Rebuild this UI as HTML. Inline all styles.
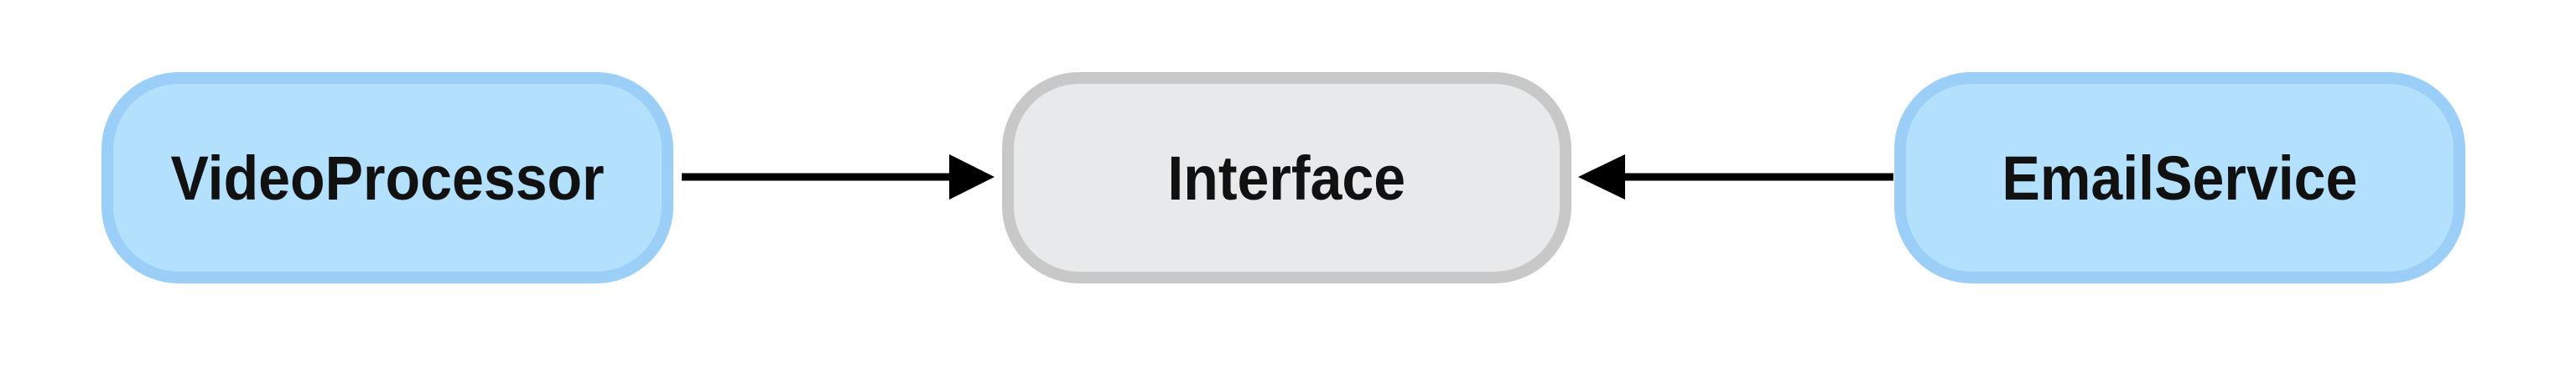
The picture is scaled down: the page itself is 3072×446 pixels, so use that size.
<!DOCTYPE html>
<html><head><style>
html,body{margin:0;padding:0;background:#fff;}
body{width:3072px;height:446px;position:relative;overflow:hidden;font-family:"Liberation Sans",Arial,sans-serif;}
.n{position:absolute;box-sizing:border-box;border-radius:92px;display:flex;align-items:center;justify-content:center;font-weight:bold;font-size:74px;color:#111;top:86px;height:252px;}
.n span{display:inline-block;transform:scaleX(0.92);}
.b{background:#b2e0fd;border:14px solid #9ccff8;}
.g{background:#e8e9ea;border:14px solid #c8c8c8;}
</style></head><body>
<div class="n b" style="left:121px;width:682px;"><span>VideoProcessor</span></div>
<div class="n g" style="left:1195px;width:679px;"><span>Interface</span></div>
<div class="n b" style="left:2259px;width:681px;"><span>EmailService</span></div>
<svg width="3072" height="446" style="position:absolute;left:0;top:0">
<line x1="813" y1="211" x2="1140" y2="211" stroke="#000" stroke-width="9"/>
<polygon points="1132,184 1186,211 1132,238" fill="#000"/>
<line x1="2258" y1="211" x2="1930" y2="211" stroke="#000" stroke-width="9"/>
<polygon points="1938,184 1882,211 1938,238" fill="#000"/>
</svg>
</body></html>
